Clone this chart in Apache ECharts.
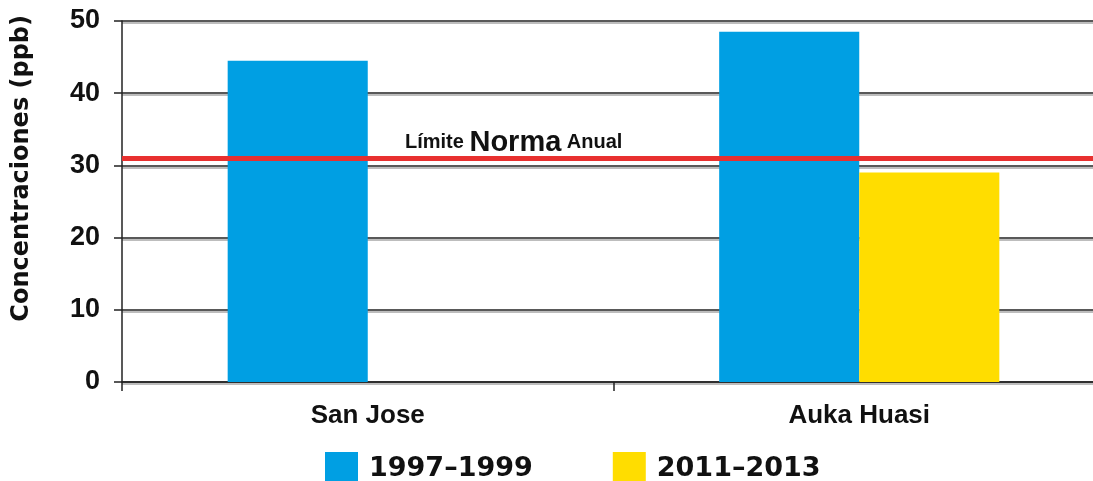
<!DOCTYPE html>
<html>
<head>
<meta charset="utf-8">
<script src="https://cdn.jsdelivr.net/npm/echarts@6/dist/echarts.min.js"></script>
<style>
  html, body { margin: 0; padding: 0; background: #fff; }
  #chart { width: 1093px; height: 481px; }
</style>
</head>
<body>
<div id="chart"></div>
<script>
// datos
const stations = ['San Jose', 'Auka Huasi']
const period1 = [44.5, 48.5]
const period2 = [null, 29]
const seriesNames = ['1997\u20131999', '2011\u20132013']
const limitValue = 31
const yTitle = 'Concentraciones (ppb)'

const chart = echarts.init(document.getElementById('chart'))

const option = {
  animation: false,
  color: ['#009fe3', '#ffdd00'],
  grid: { left: 122, right: -12, top: 21, bottom: 99, outerBoundsMode: 'none', containLabel: false },
  graphic: [
    {
      type: 'text',
      left: 10,
      top: 15,
      rotation: Math.PI / 2,
      originX: 0,
      originY: 0,
      style: {
        text: yTitle,
        fontFamily: 'DejaVu Sans',
        fontWeight: 'bold',
        fontSize: 24,
        fill: '#111'
      }
    }
  ],
  legend: {
    top: 447,
    left: 320,
    itemWidth: 33,
    itemHeight: 33,
    itemGap: 80,
    icon: 'rect',
    textStyle: { fontFamily: 'DejaVu Sans', fontWeight: 'bold', fontSize: 27, color: '#111', padding: [0, 0, 0, 6] },
    data: seriesNames
  },
  xAxis: {
    type: 'category',
    data: stations,
    axisLine: { lineStyle: { color: '#222', width: 1.5 } },
    axisTick: { show: true, length: 9, lineStyle: { color: '#222', width: 1.5 } },
    axisLabel: { margin: 21, fontFamily: 'Liberation Sans', fontWeight: 'bold', fontSize: 26, color: '#111' }
  },
  yAxis: {
    type: 'value',
    min: 0,
    max: 50,
    interval: 10,
    axisLine: { show: true, lineStyle: { color: '#222', width: 1.5 } },
    axisTick: { show: true, length: 8, lineStyle: { color: '#222', width: 1.5 } },
    axisLabel: { margin: 22, fontFamily: 'Liberation Sans', fontWeight: 'bold', fontSize: 27, color: '#111' },
    splitLine: {
      lineStyle: { color: '#222', width: 1.5, shadowColor: 'rgba(0,0,0,0.35)', shadowOffsetY: 2, shadowBlur: 0 }
    }
  },
  series: [
    {
      name: seriesNames[0],
      type: 'bar',
      data: period1,
      barGap: '0%',
      barCategoryGap: '43%',
      markLine: {
        symbol: 'none',
        silent: true,
        lineStyle: { color: '#e8302f', width: 5, type: 'solid' },
        label: {
          show: true,
          position: 'insideStartTop',
          distance: [283, 1],
          formatter: '{a|Límite }{b|Norma}{a| Anual}',
          rich: {
            a: { fontFamily: 'Liberation Sans', fontWeight: 'bold', fontSize: 20, color: '#111' },
            b: { fontFamily: 'Liberation Sans', fontWeight: 'bold', fontSize: 29, color: '#111' }
          }
        },
        data: [{ yAxis: limitValue }]
      }
    },
    {
      name: seriesNames[1],
      type: 'bar',
      data: period2
    }
  ]
}

chart.setOption(option)
</script>
</body>
</html>
